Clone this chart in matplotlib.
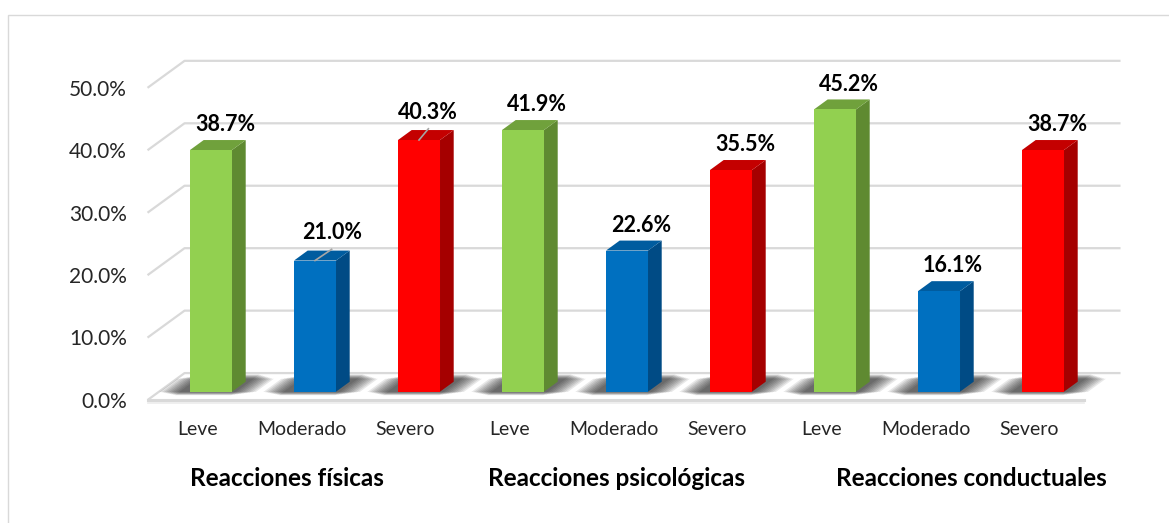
import numpy as np
import matplotlib
matplotlib.use("Agg")
import matplotlib.pyplot as plt
from matplotlib.patches import Polygon, Rectangle

plt.rcParams['font.family'] = ['Lato', 'DejaVu Sans']

# data
groups = ["Reacciones físicas", "Reacciones psicológicas", "Reacciones conductuales"]
levels = ["Leve", "Moderado", "Severo"]
values = [38.7, 21.0, 40.3, 41.9, 22.6, 35.5, 45.2, 16.1, 38.7]
yticks = [0, 10, 20, 30, 40, 50]

# colours per level: front, side, top
front_c = ["#92d050", "#0070c0", "#ff0000"]
side_c = ["#5f8a31", "#004b85", "#a50000"]
top_c = ["#70a13c", "#005c9f", "#c40000"]

W, H = 1169, 523
fig = plt.figure(figsize=(W / 100, H / 100), dpi=100)

# axes placed so that 1 x unit = 104 px, 1 % = 6.245 px
x0_px, y0_px, sx, sy = 211, 391.7, 104.0, 6.245
xlim = (-2.0, 9.5)
ylim = (-20.0, 70.0)
left = x0_px + sx * xlim[0]
right = x0_px + sx * xlim[1]
top = y0_px - sy * ylim[1]
bottom = y0_px - sy * ylim[0]
ax = fig.add_axes([left / W, (H - bottom) / H, (right - left) / W, (bottom - top) / H])
ax.set_xlim(*xlim)
ax.set_ylim(*ylim)
ax.axis("off")

# pseudo 3d: depth 0 = front plane, 1 = back wall
Dx, Dv = 0.356, 4.32
f0, f1 = 0.31, 0.68
bw = 0.404


def proj(x, v, f):
    return x + (f - f0) * Dx, v + (f - f0) * Dv


xa, xb = -0.5, 8.5
grid = "#d9d9d9"

# back wall gridlines + left slants
for t in yticks:
    p1 = proj(xa, t, 0)
    p2 = proj(xa, t, 1)
    p3 = proj(xb, t, 1)
    ax.plot([p1[0], p2[0], p3[0]], [p1[1], p2[1], p3[1]], color=grid, lw=1.6,
            solid_capstyle="butt", zorder=1)
    ax.text(p1[0] - 0.2, p1[1] - 0.3, f"{t:.1f}%", ha="right", va="center",
            fontsize=15, color="#262626")

# floor front edge
fa = proj(xa, 0, 0)
fb = proj(xb, 0, 0)
ax.plot([fa[0], fb[0]], [fa[1], fb[1]], color=grid, lw=2.2, zorder=1)
ax.plot([fa[0], fb[0]], [fa[1] - 0.45, fb[1] - 0.45], color="#ececec", lw=1.2, zorder=1)

pos = np.arange(len(values))

# soft shadows on the floor
for x in pos:
    for k in range(9):
        e = 0.02 + 0.024 * k
        fa_, fb_ = 0.18 + 0.015 * k, 0.95 - 0.02 * k
        pts = [proj(x - bw / 2 - e - 0.08, 0, fa_), proj(x + bw / 2 + e + 0.02, 0, fa_),
               proj(x + bw / 2 + e + 0.02, 0, fb_), proj(x - bw / 2 - e - 0.08, 0, fb_)]
        ax.add_patch(Polygon(pts, closed=True, facecolor="black", edgecolor="none",
                             alpha=0.09, zorder=2))

# bars
cols = [front_c[i % 3] for i in pos]
ax.bar(pos, values, width=bw, color=cols, edgecolor="none", zorder=5)
for i, (x, v) in enumerate(zip(pos, values)):
    xr, xl = x + bw / 2, x - bw / 2
    side = [(xr, 0), proj(xr, 0, f1), proj(xr, v, f1), (xr, v)]
    topf = [(xl, v), (xr, v), proj(xr, v, f1), proj(xl, v, f1)]
    ax.add_patch(Polygon(side, closed=True, facecolor=side_c[i % 3], edgecolor="none", zorder=4))
    ax.add_patch(Polygon(topf, closed=True, facecolor=top_c[i % 3], edgecolor="none", zorder=4))

# value labels
leader = {1: 0.16, 2: 0.09}
for i, (x, v) in enumerate(zip(pos, values)):
    lx = x + 0.135
    ly = v + 3.0
    if i in leader:
        lx = x + leader[i]
        ly = v + 3.4
        ax.plot([x, lx], [v, v + 1.8], color="#a6a6a6", lw=1.2, zorder=6)
    ax.text(lx, ly, f"{v:.1f}%", ha="center", va="baseline", fontsize=15.5,
            fontweight="bold", color="black", zorder=7)

# category labels
for i, x in enumerate(pos):
    px, _ = proj(x, 0, 0)
    ax.text(px - 0.02, -6.1, levels[i % 3], ha="center", va="center", fontsize=14,
            color="#262626")

group_x = [0.73, 3.90, 7.31]
for gx, g in zip(group_x, groups):
    ax.text(gx, -13.9, g, ha="center", va="center", fontsize=17.5, fontweight="bold",
            color="black")

# chart area frame
fig.add_artist(Rectangle((8 / W, -0.1), 1.2, 1 - 15 / H + 0.1, transform=fig.transFigure,
                         fill=False, edgecolor=grid, lw=1.0))

fig.savefig("out.png", dpi=100)
